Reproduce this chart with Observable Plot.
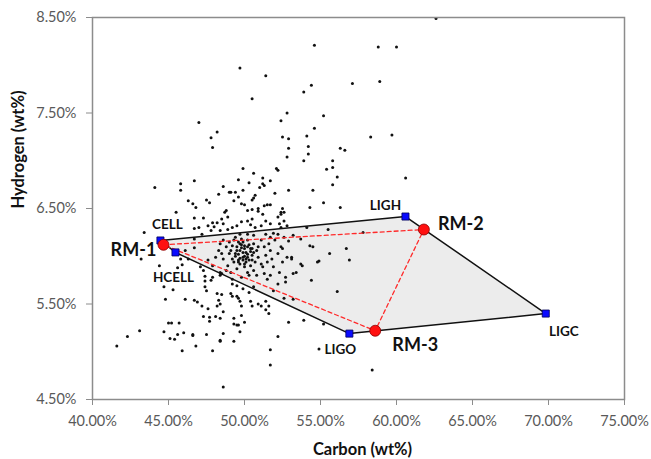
<!DOCTYPE html>
<html><head><meta charset="utf-8">
<script src="https://cdn.jsdelivr.net/npm/d3@7"></script>
<script src="https://cdn.jsdelivr.net/npm/@observablehq/plot@0.6"></script>
<style>
body{margin:0;background:#fff;}
#chart svg{font-family:Lato,"Open Sans",sans-serif;background:#fff;}
</style></head><body><div id="chart"></div>
<script>
// Samples: [carbon wt%, hydrogen wt%]
const samples = [
[62.6,8.49],[54.6,8.21],[58.8,8.19],[60.0,8.19],[49.7,7.97],[51.4,7.89],[50.5,7.65],[57.1,7.81],[58.9,7.83],[54.4,7.79],
[53.9,7.72],[47.0,7.40],[48.2,7.30],[47.8,7.24],[47.9,7.14],[52.8,7.50],[52.4,7.42],[55.2,7.47],[54.6,7.34],[54.1,7.26],
[52.5,7.25],[52.9,7.23],[52.9,7.13],[54.2,7.15],[54.2,7.07],[52.8,7.04],[53.9,7.00],[58.3,7.25],[59.7,7.27],[56.3,7.13],
[56.6,7.11],[55.8,7.00],[55.8,6.93],[55.4,6.91],[56.1,6.83],[55.8,6.75],[60.6,6.82],[49.9,6.92],[50.6,6.87],[52.1,6.92],
[52.2,6.90],[51.2,6.82],[51.7,6.79],[49.6,6.80],[50.3,6.77],[51.2,6.76],[51.3,6.74],[51.0,6.72],[48.6,6.73],[46.7,6.79],
[45.8,6.76],[44.1,6.72],[52.9,6.69],[54.5,6.69],[54.3,6.51],[55.2,6.56],[56.3,6.51],[52.4,6.46],[52.6,6.46],
[45.5,6.46],[46.3,6.58],[46.6,6.55],[46.8,6.51],[47.5,6.59],[47.7,6.56],[48.3,6.65],[49.0,6.67],[49.1,6.67],[49.4,6.67],
[49.6,6.62],[49.9,6.69],[49.3,6.58],[49.8,6.55],[50.0,6.54],[50.7,6.64],[50.6,6.61],[50.5,6.59],[50.9,6.50],[51.3,6.53],
[51.5,6.54],[51.7,6.54],[52.0,6.66],[48.8,6.48],[48.7,6.46],[50.2,6.48],[50.5,6.49],[50.9,6.47],[51.2,6.44],[48.9,6.41],
[46.7,6.40],[47.3,6.40],
[47.6,6.32],[47.9,6.35],[48.0,6.31],[48.2,6.35],[48.5,6.39],[50.5,6.39],[52.2,6.41],[52.4,6.44],[52.5,6.50],[52.6,6.37],
[52.3,6.34],[51.7,6.34],[51.4,6.37],[51.1,6.32],[50.7,6.30],[50.4,6.33],[50.2,6.37],[49.8,6.36],[49.5,6.32],[49.2,6.30],
[48.9,6.28],[48.6,6.34],[48.4,6.27],[47.8,6.27],[47.2,6.23],
[48.4,6.13],[48.6,6.17],[48.8,6.10],[49.0,6.15],[49.1,6.06],[49.2,6.11],[49.3,6.17],[49.4,6.03],[49.5,6.10],[49.6,6.15],
[49.7,6.06],[49.9,5.99],[50.0,6.11],[50.1,6.04],[50.2,6.17],[50.3,5.96],[50.4,6.08],[50.5,6.01],[50.6,6.13],[50.7,5.94],
[50.8,6.06],[50.9,5.99],[51.1,6.17],[51.2,5.89],[51.3,6.10],[51.4,6.01],[51.5,5.94],[51.6,6.13],[51.7,6.06],[51.8,5.97],
[51.9,5.89],[52.0,6.17],[52.2,6.03],[52.3,5.83],[52.4,6.10],[52.5,5.94],[52.6,6.20],[52.7,5.78],[52.8,5.99],[48.6,5.97],
[48.9,5.90],[49.1,5.83],[49.3,5.94],[49.5,5.87],[49.7,5.92],[50.0,5.89],[50.2,5.83],[50.4,5.90],[50.6,5.85],[50.8,5.80],
[51.1,5.92],[51.3,5.82],[51.5,5.76],[51.7,5.80],[48.5,6.03],[48.3,6.06],[49.2,5.97],[49.6,5.96],[50.1,5.94],[50.5,5.96],
[50.9,6.10],[50.2,5.99],[49.8,6.18],[50.6,6.04],[49.4,6.20],[49.0,6.03],[48.1,5.99],[47.9,5.90],[47.6,5.96],[47.3,5.85],
[47.1,5.89],[48.4,5.83],[51.7,6.20],[52.2,6.23],[50.6,6.22],[51.4,6.23],[50.2,6.23],[49.7,6.23],
[49.6,6.02],[49.9,6.04],[50.0,6.08],[49.8,6.12],[50.2,6.02],[49.7,5.98],[50.1,5.97],[49.9,6.15],[50.3,6.12],[49.5,6.06],
[50.4,6.05],[49.8,6.09],[50.0,6.00],[49.7,6.13],[50.2,6.10],[49.6,5.94],[50.0,5.92],[49.4,6.00],[50.5,6.08],[49.9,5.96],
[43.4,6.25],[46.7,6.29],[47.0,6.30],[46.7,6.18],[46.7,6.09],[46.1,6.06],[46.3,5.97],[45.8,5.97],[45.8,6.69],[43.2,5.97],
[47.4,5.68],[47.5,5.64],[48.8,5.85],[49.2,5.71],
[52.9,5.31],[53.9,5.33],[55.2,5.29],[52.2,5.16],[54.9,5.03],[58.4,4.81],[56.1,5.63],[54.4,5.75],[56.9,5.96],[55.6,6.03],
[56.7,6.08],[54.8,5.94],[54.9,5.95],[54.3,6.11],[54.5,6.10],[57.8,6.25],[55.5,6.28],[54.1,6.30],[53.1,5.97],[53.7,5.92],
[53.8,5.90],[53.4,5.83],[53.2,5.82],[53.1,5.99],[52.7,5.73],[53.2,5.55],[52.6,5.56],[52.2,5.71],[51.9,5.64],[52.5,6.08],
[52.9,6.16],[53.2,6.22],[53.7,6.18],[51.9,6.24],[52.4,6.30],[52.8,6.32],
[44.4,5.90],[45.6,5.88],[45.9,5.91],[47.4,5.79],[47.4,5.74],[47.9,5.78],[47.8,5.75],[44.7,5.68],[45.3,5.65],[44.8,5.55],
[46.1,5.55],[46.7,5.54],[46.9,5.52],[47.2,5.48],[47.6,5.45],[48.2,5.61],[48.5,5.60],[48.3,5.54],[48.4,5.50],[48.2,5.48],
[48.6,5.42],[49.1,5.61],[49.2,5.58],[49.5,5.58],[49.6,5.56],[49.7,5.53],[49.8,5.48],[50.4,5.53],[50.5,5.48],[50.9,5.50],
[51.1,5.48],[51.6,5.48],[51.4,5.44],[51.6,5.40],[47.3,5.37],[47.7,5.36],[48.1,5.37],[48.4,5.35],[47.7,5.32],[49.3,5.35],
[49.8,5.38],[49.3,5.29],[49.5,5.28],[49.6,5.28],[50.0,5.31],[49.7,5.21],[48.6,5.19],[49.3,5.11],[48.4,5.12],[48.4,5.11],
[47.5,5.18],[46.8,5.06],[47.9,5.01],[46.6,5.18],[46.6,5.17],[46.0,5.20],[45.6,5.18],[45.4,5.13],[45.1,5.14],[44.7,5.21],
[45.0,5.30],[45.2,5.30],[45.7,5.30],[45.9,5.01],[43.1,5.22],[42.3,5.16],[41.6,5.06],[51.7,5.02],[51.7,4.86],[48.6,4.63],
[49.8,5.78],[50.3,5.80],[49.5,5.69],[49.9,5.66],[50.3,5.62],[50.6,5.68],[51.4,5.53],[49.2,5.76],[48.5,5.82],[48.4,5.80]
];

// Pure components (blue squares)
const compNames    = ["CELL", "HCELL", "LIGO", "LIGC", "LIGH"];
const compCarbon   = [44.47, 45.46, 56.9, 69.82, 60.59];
const compHydrogen = [6.165, 6.04, 5.19, 5.40, 6.416];
// Hull drawing order
const hullOrder = ["CELL", "LIGH", "LIGC", "LIGO", "HCELL"];

// Reference mixtures (red circles)
const rmNames    = ["RM-1", "RM-2", "RM-3"];
const rmCarbon   = [44.67, 61.8, 58.6];
const rmHydrogen = [6.12, 6.28, 5.22];

const xTicks = [40, 45, 50, 55, 60, 65, 70, 75];
const yTicks = [4.5, 5.5, 6.5, 7.5, 8.5];

const pts = samples.map(([c, h]) => ({c, h}));
const comps = compNames.map((n, i) => ({n, c: compCarbon[i], h: compHydrogen[i]}));
const hull = hullOrder.map(n => comps.find(d => d.n === n));
const rms = rmNames.map((n, i) => ({n, c: rmCarbon[i], h: rmHydrogen[i]}));

const labelOffsets = {
  "CELL": [7, -16], "HCELL": [-2, 25], "LIGO": [-9, 16], "LIGC": [18, 18], "LIGH": [-20, -11],
  "RM-1": [-30, 5], "RM-2": [37, -5], "RM-3": [40, 14]
};
const pctFmt = d => d.toFixed(2) + "%";

const compLabels = comps.map(d => Plot.text([d], {x: "c", y: "h", text: "n", dx: labelOffsets[d.n][0], dy: labelOffsets[d.n][1],
  fontSize: 13.5, fontWeight: "bold", fill: "#111"}));
const rmLabels = rms.map(d => Plot.text([d], {x: "c", y: "h", text: "n", dx: labelOffsets[d.n][0], dy: labelOffsets[d.n][1],
  fontSize: 18, fontWeight: "bold", fill: "#111"}));

const chart = Plot.plot({
  width: 651, height: 459,
  marginLeft: 92, marginRight: 27, marginTop: 17, marginBottom: 60,
  style: {fontFamily: "Lato, 'Open Sans', sans-serif", background: "#fff"},
  x: {domain: [40, 75], label: null},
  y: {domain: [4.5, 8.5], label: null},
  marks: [
    Plot.line(hull, {x: "c", y: "h", curve: "linear-closed", fill: "#ececec", stroke: "none"}),
    Plot.dot(pts, {x: "c", y: "h", r: 1.5, fill: "#111", stroke: "none"}),
    Plot.line(hull, {x: "c", y: "h", curve: "linear-closed", stroke: "#111", strokeWidth: 1.5}),
    Plot.line(rms, {x: "c", y: "h", curve: "linear-closed", stroke: "#ff2a2a", strokeWidth: 1.3, strokeDasharray: "4,3"}),
    Plot.dot(comps, {x: "c", y: "h", symbol: "square", r: 4, fill: "#0a0aff", stroke: "#00005a", strokeWidth: 0.8}),
    Plot.dot(rms, {x: "c", y: "h", r: 5.5, fill: "#ff1010", stroke: "#8a0000", strokeWidth: 0.8}),
    ...compLabels,
    ...rmLabels,
    Plot.frame({stroke: "#8c8c8c", strokeWidth: 1.5}),
    Plot.axisX(xTicks, {tickSize: 6, tickPadding: 10, tickFormat: pctFmt, fontSize: 14.5, fill: "#595959", stroke: "#8c8c8c", label: null}),
    Plot.axisY(yTicks, {tickSize: 6, tickPadding: 10, tickFormat: pctFmt, fontSize: 14.5, fill: "#595959", stroke: "#8c8c8c", label: null}),
    Plot.text(["Carbon (wt%)"], {frameAnchor: "bottom", dx: 4, dy: 55, fontSize: 16.5, fontWeight: "bold", fill: "#111"}),
    Plot.text(["Hydrogen (wt%)"], {frameAnchor: "left", dx: -74, rotate: -90, fontSize: 16.5, fontWeight: "bold", fill: "#111"})
  ]
});
document.getElementById("chart").appendChild(chart);
</script>
</body></html>
